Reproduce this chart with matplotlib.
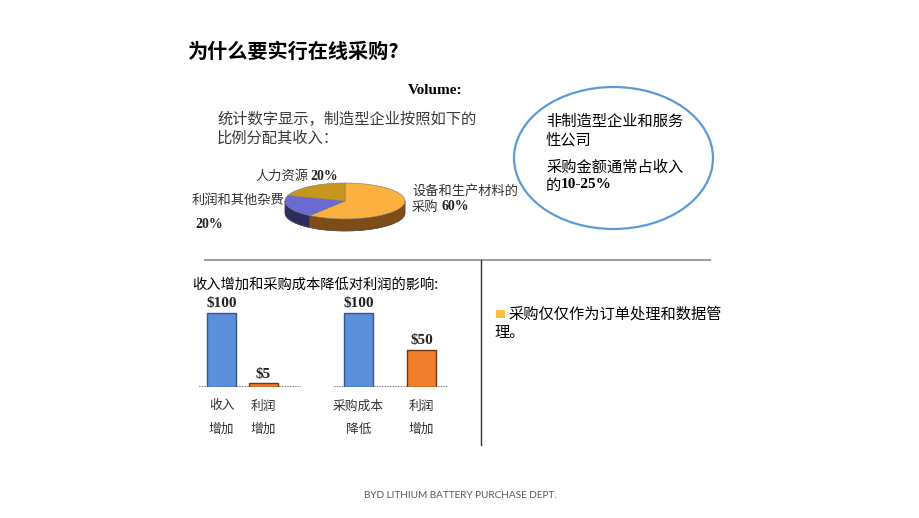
import numpy as np
import matplotlib.pyplot as plt
from matplotlib.patches import Polygon, Ellipse, Rectangle

plt.rcParams['font.family'] = ['Noto Sans CJK SC', 'DejaVu Sans']

# pie data
pie_labels = ["设备和生产材料的采购", "利润和其他杂费", "人力资源"]
pie_values = [60, 20, 20]
pie_top = ["#FBB040", "#6A6AD2", "#C8961E"]
pie_side = ["#7E4C14", "#2B2E5C", "#6E5210"]

# bar data
left_cats = ["收入\n增加", "利润\n增加"]
left_vals = [100, 5]
left_txt = ["$100", "$5"]
right_cats = ["采购成本\n降低", "利润\n增加"]
right_vals = [100, 50]
right_txt = ["$100", "$50"]
bar_colors = ["#5C8FDA", "#F07D2B"]
bar_edges = ["#34568F", "#6B3A15"]

W, H = 920, 518
fig = plt.figure(figsize=(9.2, 5.18), dpi=100)
bg = fig.add_axes([0, 0, 1, 1])
bg.set_xlim(0, W)
bg.set_ylim(H, 0)
bg.axis("off")

serif = "Liberation Serif"

# title
bg.text(188, 51, "为什么要实行在线采购?", fontsize=14.5, fontweight="bold",
        ha="left", va="center", color="black")
bg.text(435, 91, "Volume:", fontsize=11, fontweight="bold", family=serif,
        ha="center", va="center")
bg.text(217, 119, "统计数字显示，制造型企业按照如下的", fontsize=11,
        ha="left", va="center", color="#3a3a3a")
bg.text(217, 138, "比例分配其收入：", fontsize=11,
        ha="left", va="center", color="#3a3a3a")

# 3D-ish pie
cx, cy, rx, ry, depth = 345, 201, 60, 18, 12
starts = 90 - np.concatenate([[0], np.cumsum(pie_values)[:-1]]) * 3.6
ends = starts - np.array(pie_values) * 3.6


def arc(a0, a1, n=60):
    t = np.radians(np.linspace(a0, a1, n))
    return cx + rx * np.cos(t), cy - ry * np.sin(t)


def side(a_hi, a_lo, col):
    x, y = arc(a_hi, a_lo)
    pts = np.vstack([np.column_stack([x, y]),
                     np.column_stack([x[::-1], y[::-1] + depth])])
    bg.add_patch(Polygon(pts, closed=True, facecolor=col,
                         edgecolor="#555555", lw=0.4, zorder=2))


# sides (front half only: angles between 180 and 360)
for s, e, col in zip(starts, ends, pie_side):
    for off in (0, -360, 360):
        h, l = s + off, e + off
        hi, lo = min(h, 360), max(l, 180)
        if hi > lo:
            side(hi, lo, col)
        hi, lo = min(h, 0), max(l, -180)
        if hi > lo:
            side(hi, lo, col)

for s, e, col in zip(starts, ends, pie_top):
    x, y = arc(s, e)
    pts = np.vstack([[cx, cy], np.column_stack([x, y])])
    bg.add_patch(Polygon(pts, closed=True, facecolor=col,
                         edgecolor="#777777", lw=0.4, zorder=3))

lab = dict(fontsize=9.5, color="#333333", va="center", ha="left")
num = dict(fontsize=10, color="#222222", va="center", ha="left",
           family=serif, fontweight="bold")
bg.text(255, 176, "人力资源", **lab)
bg.text(310, 176, f"{pie_values[2]}%", **num)
bg.text(192, 200, "利润和其他杂费", **lab)
bg.text(195, 224, f"{pie_values[1]}%", **num)
bg.text(412, 191, "设备和生产材料的", **lab)
bg.text(412, 207, "采购", **lab)
bg.text(442, 207, f"{pie_values[0]}%", **num)

# ellipse callout
bg.add_patch(Ellipse((613.5, 158), 199, 142, facecolor="none",
                     edgecolor="#5B9BD5", lw=1.6))
ell = dict(fontsize=11, color="black", va="center", ha="left")
bg.text(546, 121, "非制造型企业和服务", **ell)
bg.text(546, 140, "性公司", **ell)
bg.text(546, 167, "采购金额通常占收入", **ell)
bg.text(546, 185, "的", **ell)
bg.text(561, 185, "10-25%", fontsize=11, fontweight="bold", family=serif,
        va="center", ha="left")

# separators
bg.plot([205, 710], [260, 260], color="#a0a0a0", lw=1.5)
bg.plot([481, 481], [260, 445], color="#333333", lw=1.0)

bg.text(192, 285, "收入增加和采购成本降低对利润的影响:", fontsize=10.3,
        fontweight="medium", color="black", va="center", ha="left")

# bullet
bg.add_patch(Rectangle((496, 310), 9, 8, facecolor="#F5C243",
                       edgecolor="none"))
bg.text(508, 314, "采购仅仅作为订单处理和数据管", **ell)
bg.text(494, 333, "理。", **ell)

# footer
bg.text(460, 495, "BYD LITHIUM BATTERY PURCHASE DEPT.", fontsize=7.2,
        family="Lato", color="#595959", ha="center", va="center")


def bar_axes(x0, x1, c0, c1, cats, vals, txt):
    spacing = c1 - c0
    base = 387
    top_units = 140
    px_per = 0.74
    hpx = top_units * px_per
    ax = fig.add_axes([x0 / W, (H - base) / H, (x1 - x0) / W, hpx / H])
    ax.set_xlim(-(c0 - x0) / spacing, 1 + (x1 - c1) / spacing)
    ax.set_ylim(0, top_units)
    ax.patch.set_alpha(0)
    xs = np.arange(len(vals))
    ax.bar(xs, vals, width=29 / spacing, color=bar_colors,
           edgecolor=bar_edges, lw=1.0, zorder=2)
    for i, (v, t) in enumerate(zip(vals, txt)):
        ax.annotate(t, (i, v), xytext=(0, 2), textcoords="offset points",
                    ha="center", va="bottom", fontsize=11, family=serif,
                    fontweight="bold", color="#222222")
    ax.axhline(0, color="#777777", lw=1.2, ls=(0, (1, 0.6)), zorder=1)
    for sp in ax.spines.values():
        sp.set_visible(False)
    ax.set_yticks([])
    ax.set_xticks(xs)
    ax.set_xticklabels(cats, fontsize=9.2, color="#333333", linespacing=2.0)
    ax.tick_params(axis="x", length=0, pad=9)
    return ax


bar_axes(199, 301, 221.5, 263.5, left_cats, left_vals, left_txt)
bar_axes(334, 448, 358.5, 421.5, right_cats, right_vals, right_txt)

fig.savefig("out.png", dpi=100)
